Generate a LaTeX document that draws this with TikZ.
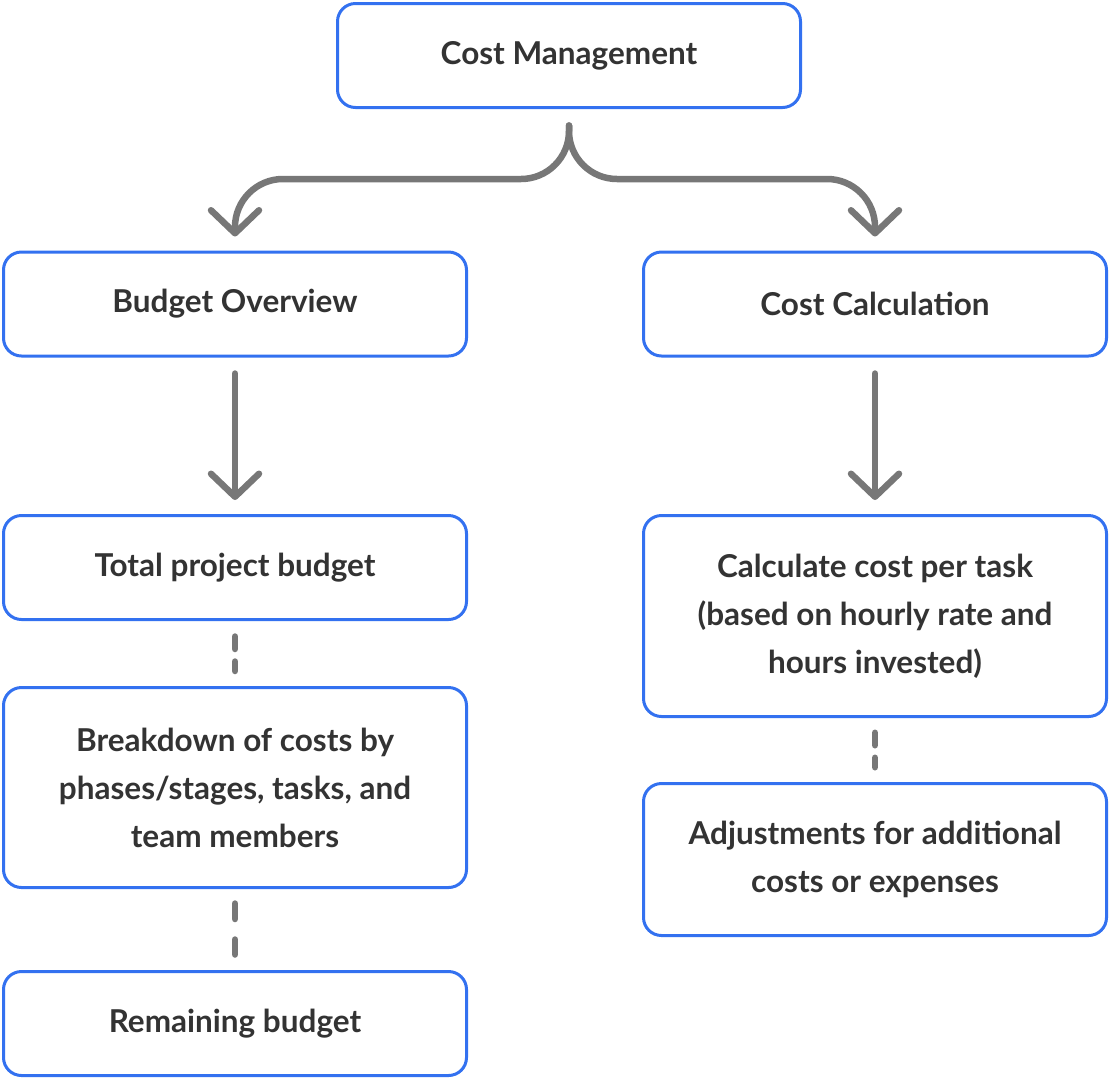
\documentclass[tikz,border=0pt]{standalone}
\usepackage{fontspec}
\setmainfont{Lato}
\usepackage{tikz}
\usetikzlibrary{arrows.meta}
\usepackage{xcolor}
\definecolor{edgeblue}{HTML}{3371F0}
\definecolor{flowgray}{HTML}{777777}
\definecolor{inkgray}{HTML}{333333}

\begin{document}
\begin{tikzpicture}[
    x=1pt, y=-1pt,
    box/.style={draw=edgeblue, line width=3pt, fill=white, rounded corners=18pt, minimum width=463pt, minimum height=104pt, align=center, text=inkgray, font=\fontsize{31.5}{48}\selectfont\bfseries},
    flow/.style={draw=flowgray, line width=6.5pt, line cap=round, line join=round, -{Straight Barb[length=23pt, width=48pt, round]}},
    link/.style={draw=flowgray, line width=6.5pt, line cap=round, dash pattern=on 12.5pt off 12.5pt}
]
\useasboundingbox (0,0) rectangle (1110,1080);

% Nodes
\node[box] (cm) at (569,55.5) {Cost Management};
\node[box] (budget) at (235,304) {Budget Overview};
\node[box] (calc) at (875,304) {Cost Calculation};
\node[box] (total) at (235,567.5) {Total project budget};
\node[box, minimum height=200pt] (breakdown) at (235,787.5) {Breakdown of costs by\\phases/stages, tasks, and\\team members};
\node[box] (remaining) at (235,1023.5) {Remaining budget};
\node[box, minimum height=201pt] (pertask) at (875,616) {Calculate cost per task\\(based on hourly rate and\\hours invested)};
\node[box, minimum height=152pt] (adjust) at (875,859.5) {Adjustments for additional\\costs or expenses};

% Arrows
\draw[flow, rounded corners=48pt] ([yshift=-16.5pt]cm.south) |- ([yshift=71.5pt]budget.north) -- ([yshift=14pt]budget.north);
\draw[flow, rounded corners=48pt] ([yshift=-16.5pt]cm.south) |- ([yshift=71.5pt]calc.north) -- ([yshift=14pt]calc.north);
\draw[flow, shorten <=16pt, shorten >=14pt] (budget.south) -- (total.north);
\draw[flow, shorten <=16pt, shorten >=14pt] (calc.south) -- (pertask.north);

% Dashed links
\draw[link, shorten <=15.5pt, shorten >=15pt] (total.south) -- (breakdown.north);
\draw[link, dash pattern=on 15.5pt off 20.5pt, shorten <=14.5pt, shorten >=15.5pt] (breakdown.south) -- (remaining.north);
\draw[link, shorten <=14.75pt, shorten >=14.75pt] (pertask.south) -- (adjust.north);
\end{tikzpicture}
\end{document}
